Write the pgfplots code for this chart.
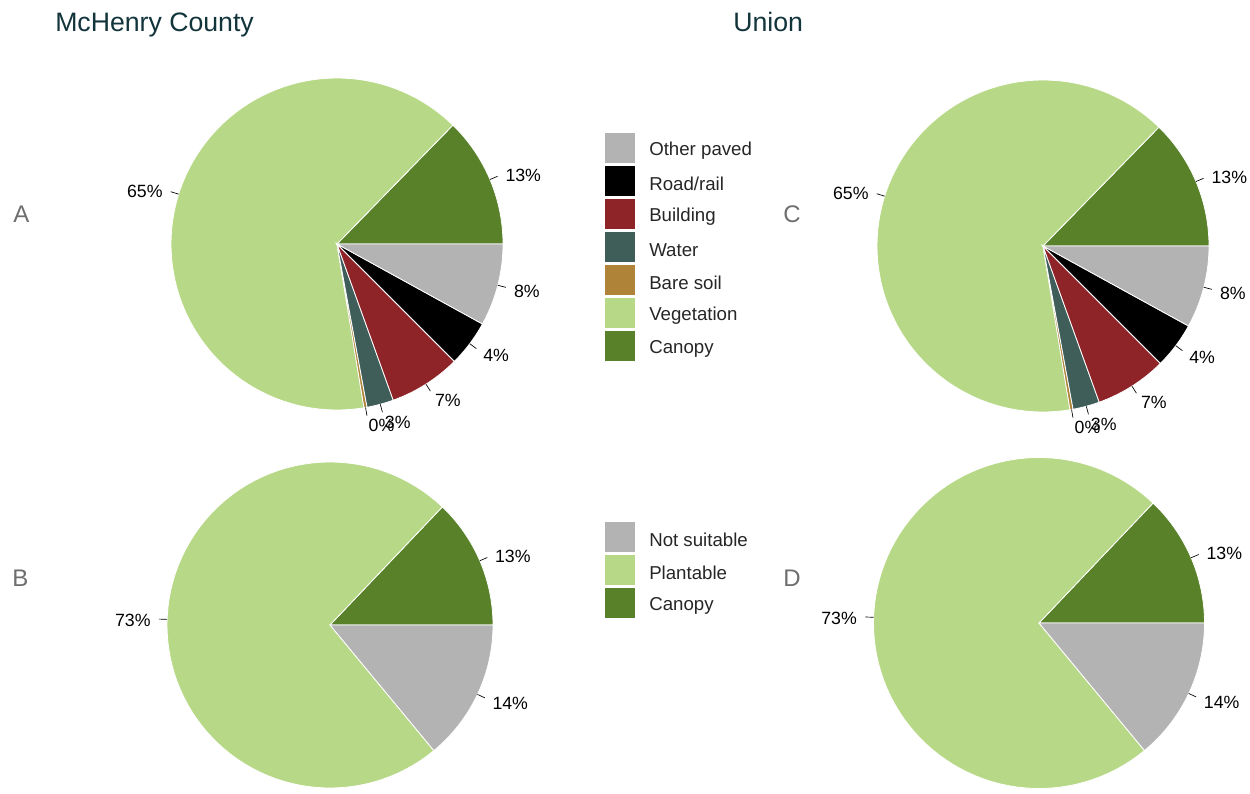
\documentclass[border=0pt]{standalone}
\usepackage{pgfplots}
\pgfplotsset{compat=1.18}
\usepackage{fontspec}
\setmainfont{Liberation Sans}
\definecolor{cOther}{HTML}{B3B3B3}
\definecolor{cRoad}{HTML}{000000}
\definecolor{cBuild}{HTML}{8E2328}
\definecolor{cWater}{HTML}{3F5E5A}
\definecolor{cSoil}{HTML}{B08438}
\definecolor{cVeg}{HTML}{B7D886}
\definecolor{cCanopy}{HTML}{58812A}
\definecolor{cTitle}{HTML}{12343B}
\definecolor{cLetter}{HTML}{6E6E6E}
% slice: cx, cy, r, cumulative start %, cumulative end %, colour
\newcommand\slice[6]{%
\addplot[fill=#6, draw=white, line width=0.6pt, domain={3.6*#4}:{3.6*#5}, samples=90]
 ({#1+#3*cos(x)},{#2+#3*sin(x)}) -- (axis cs:#1,#2) -- cycle;}
% label: cx, cy, r, cumulative start %, cumulative end %, anchor, text
\newcommand\lab[7]{%
\addplot[black, line width=0.5pt, domain=1:1.05, samples=2]
 ({#1+#3*x*cos(1.8*(#4+#5))},{#2+#3*x*sin(1.8*(#4+#5))});
\node[anchor=#6, inner sep=0pt, font=\fontsize{13.3}{15}\selectfont]
 at (axis cs:{#1+1.1*#3*cos(1.8*(#4+#5))},{#2-2+1.1*#3*sin(1.8*(#4+#5))}) {#7};}
% legend key: y-centre (pixel from top), colour, text
\newcommand\key[3]{%
\addplot[fill=#2, draw=none] coordinates {(605,{793-#1+15}) (635,{793-#1+15}) (635,{793-#1-15}) (605,{793-#1-15})} -- cycle;
\node[anchor=west, inner sep=0pt, font=\fontsize{14}{16}\selectfont, text=black!85] at (axis cs:649,{793-#1-3}) {#3};}
\newcommand\landcover[3]{% cx cy r
\slice{#1}{#2}{#3}{0}{12.7}{cCanopy}
\slice{#1}{#2}{#3}{12.7}{77.6}{cVeg}
\slice{#1}{#2}{#3}{77.6}{77.9}{cSoil}
\slice{#1}{#2}{#3}{77.9}{80.5}{cWater}
\slice{#1}{#2}{#3}{80.5}{87.5}{cBuild}
\slice{#1}{#2}{#3}{87.5}{92.0}{cRoad}
\slice{#1}{#2}{#3}{92.0}{100}{cOther}
\lab{#1}{#2}{#3}{0}{12.7}{west}{13\%}
\lab{#1}{#2}{#3}{12.7}{77.6}{east}{65\%}
\lab{#1}{#2}{#3}{77.6}{77.9}{west}{0\%}
\lab{#1}{#2}{#3}{77.9}{80.5}{west}{3\%}
\lab{#1}{#2}{#3}{80.5}{87.5}{west}{7\%}
\lab{#1}{#2}{#3}{87.5}{92.0}{west}{4\%}
\lab{#1}{#2}{#3}{92.0}{100}{west}{8\%}}
\newcommand\plantable[3]{% cx cy r
\slice{#1}{#2}{#3}{0}{12.9}{cCanopy}
\slice{#1}{#2}{#3}{12.9}{86.0}{cVeg}
\slice{#1}{#2}{#3}{86.0}{100}{cOther}
\lab{#1}{#2}{#3}{0}{12.9}{west}{13\%}
\lab{#1}{#2}{#3}{12.9}{86.0}{east}{73\%}
\lab{#1}{#2}{#3}{86.0}{100}{west}{14\%}}
\begin{document}
\begin{tikzpicture}
\useasboundingbox (0,0) rectangle (937.5pt,594.75pt);
\begin{axis}[at={(0,0)}, anchor=south west, scale only axis,
  width=937.5pt, height=594.75pt, xmin=0, xmax=1250, ymin=0, ymax=793,
  hide axis, clip=false]
\landcover{337}{549}{166}
\plantable{330}{168}{163}
\landcover{1043}{547}{166}
\plantable{1039}{170}{165.5}
% legends
\key{148}{cOther}{Other paved}
\key{181}{cRoad}{Road/rail}
\key{214}{cBuild}{Building}
\key{247}{cWater}{Water}
\key{280}{cSoil}{Bare soil}
\key{313}{cVeg}{Vegetation}
\key{346}{cCanopy}{Canopy}
\key{537}{cOther}{Not suitable}
\key{570}{cVeg}{Plantable}
\key{603}{cCanopy}{Canopy}
% titles and panel letters
\node[anchor=base west, inner sep=0pt, font=\fontsize{20}{24}\selectfont, text=cTitle] at (axis cs:55,761) {McHenry County};
\node[anchor=base west, inner sep=0pt, font=\fontsize{20}{24}\selectfont, text=cTitle] at (axis cs:733,761) {Union};
\node[anchor=west, inner sep=0pt, font=\fontsize{18}{22}\selectfont, text=cLetter] at (axis cs:13,579) {A};
\node[anchor=west, inner sep=0pt, font=\fontsize{18}{22}\selectfont, text=cLetter] at (axis cs:12,215) {B};
\node[anchor=west, inner sep=0pt, font=\fontsize{18}{22}\selectfont, text=cLetter] at (axis cs:783,579) {C};
\node[anchor=west, inner sep=0pt, font=\fontsize{18}{22}\selectfont, text=cLetter] at (axis cs:783,215) {D};
\end{axis}
\end{tikzpicture}
\end{document}
